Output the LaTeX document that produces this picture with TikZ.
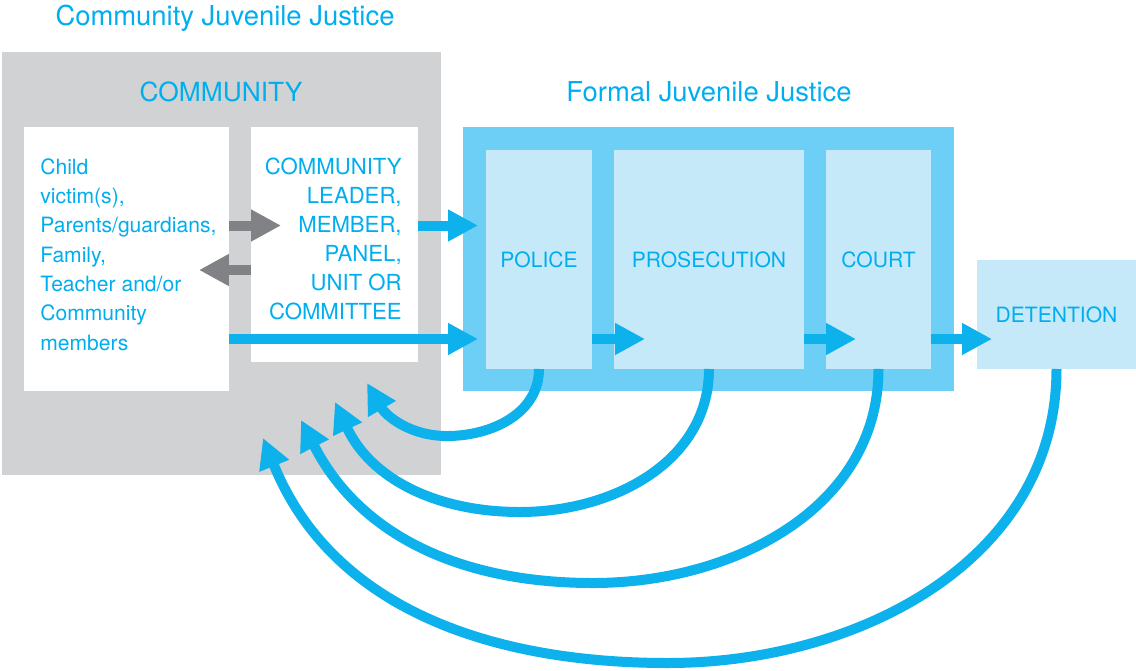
\documentclass[tikz,border=0pt]{standalone}
\usepackage{fontspec}
\setmainfont{TeX Gyre Heros}
\usepackage{xcolor}
\usepackage{tikz}
\usetikzlibrary{positioning,calc,arrows.meta}

\definecolor{jtext}{HTML}{00AEEF}
\definecolor{jflow}{HTML}{0DB1EC}
\definecolor{jgrey}{HTML}{D1D2D4}
\definecolor{jtalk}{HTML}{808285}
\definecolor{jmid}{HTML}{6DCFF6}
\definecolor{jlight}{HTML}{C5E9F9}

\begin{document}
\begin{tikzpicture}[x=0.02cm, y=0.02cm,
    every node/.style={font=\fontsize{12}{16.7}\selectfont, text=jtext},
    panel/.style={inner sep=0pt, outer sep=0pt},
    stage/.style={panel, fill=jlight, minimum height=4.38cm},
    headtext/.style={font=\fontsize{15}{18}\selectfont, anchor=base},
    titletext/.style={font=\fontsize{15.6}{18}\selectfont, anchor=base},
    flow/.style={line width=0.2cm, draw=jflow, -{Triangle[length=0.6cm, width=0.6cm]}},
    talk/.style={flow, draw=jtalk}]
    \useasboundingbox (0,0) rectangle (1136,-670);

    % Community side
    \node[titletext] (cjj) at (225,-25) {Community Juvenile Justice};
    \node[panel, fill=jgrey, minimum width=8.78cm, minimum height=8.46cm] (community) at (221.5,-263.5) {};
    \node[headtext] (commtitle) at (221,-101) {COMMUNITY};
    \node[panel, fill=white, minimum width=4.1cm, minimum height=5.28cm] (family) at (126.5,-259) {};
    \node[panel, fill=white, minimum width=3.34cm, minimum height=4.7cm] (leader) at (334.5,-244.5) {};
    \node[align=left, anchor=west, inner sep=0pt] (familytext) at (40,-254.5)
        {Child\\victim(s),\\Parents/guardians,\\Family,\\Teacher and/or\\Community\\members};
    \node[align=right, anchor=east, inner sep=0pt, font=\fontsize{12.6}{16.6}\selectfont] (leadertext) at (402,-239)
        {COMMUNITY\\LEADER,\\MEMBER,\\PANEL,\\UNIT OR\\COMMITTEE};

    % Formal side
    \node[titletext] (fjj) at (709,-101) {Formal Juvenile Justice};
    \node[panel, fill=jmid, minimum width=9.82cm, minimum height=5.28cm] (formal) at (708.5,-259) {};
    \node[stage, minimum width=2.12cm] (police) at (539,-259.5) {POLICE};
    \node[stage, minimum width=3.8cm] (prosecution) at (709,-259.5) {PROSECUTION};
    \node[stage, minimum width=2.1cm] (court) at (878.5,-259.5) {COURT};
    \node[stage, minimum width=3.18cm, minimum height=2.18cm] (detention) at (1056.5,-314.5) {DETENTION};

    % Rows of the straight arrows
    \coordinate (row1) at (0,-225.5);
    \coordinate (row2) at (0,-270);
    \coordinate (row3) at (0,-339);

    % Straight arrows
    \draw[talk] (family.east |- row1) -- ($(leader.west |- row1)+(30,0)$);
    \draw[talk] (leader.west |- row2) -- ($(family.east |- row2)+(-30,0)$);
    \draw[flow] (leader.east |- row1) -- ($(police.west |- row1)+(-8,0)$);
    \draw[flow] (family.east |- row3) -- ($(police.west |- row3)+(-8,0)$);
    \draw[flow] (police.east |- row3) -- ($(prosecution.west |- row3)+(31,0)$);
    \draw[flow] (prosecution.east |- row3) -- ($(court.west |- row3)+(30,0)$);
    \draw[flow] (court.east |- row3) -- ($(detention.west |- row3)+(15,0)$);

    % Way back to the community
    \coordinate (low1) at (447,-436);
    \coordinate (low2) at (520,-512);
    \coordinate (low3) at (593,-583);
    \coordinate (low4) at (668,-663);
    \coordinate (ret1) at (367,-383);
    \coordinate (ret2) at (335,-402);
    \coordinate (ret3) at (301,-420);
    \coordinate (ret4) at (263,-438);
    \draw[flow] (police.south) to[out=-90, in=0] (low1) to[out=180, in=-60] (ret1);
    \draw[flow] (prosecution.south) to[out=-90, in=0] (low2) to[out=180, in=-65] (ret2);
    \draw[flow] (court.south) to[out=-90, in=0] (low3) to[out=180, in=-63] (ret3);
    \draw[flow] (detention.south) to[out=-90, in=0] (low4) to[out=180, in=-68] (ret4);
\end{tikzpicture}
\end{document}
